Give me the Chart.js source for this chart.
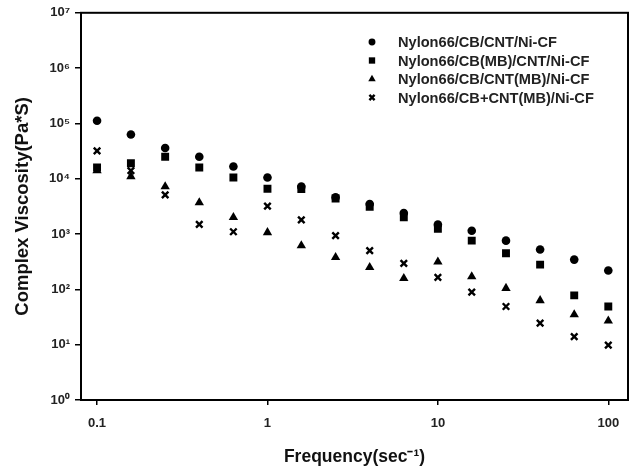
<!DOCTYPE html>
<html lang="en">
<head>
  <meta charset="UTF-8" />
  <title>Complex Viscosity vs Frequency</title>
  <script src="https://cdn.jsdelivr.net/npm/chart.js"></script>
  <style>
    html, body { margin: 0; padding: 0; background: #fff; }
    #chart-container { width: 637px; height: 469px; }
  </style>
</head>
<body>
  <div id="chart-container">
    <canvas id="viscChart"></canvas>
  </div>

  <script>
    // frequency (sec^-1)
    const freq = [0.1, 0.158, 0.251, 0.398, 0.631, 1, 1.58, 2.51, 3.98, 6.31, 10, 15.8, 25.1, 39.8, 63.1, 100];

    // complex viscosity (Pa*S)
    const cbCnt   = [1.12e5, 6.3e4, 3.6e4, 2.5e4, 1.66e4, 1.05e4, 7.2e3, 4.6e3, 3.5e3, 2.4e3, 1.48e3, 1.15e3, 760, 525, 345, 220];
    const cbMbCnt = [1.6e4, 1.9e4, 2.5e4, 1.6e4, 1.05e4, 6.6e3, 6.5e3, 4.4e3, 3.1e3, 2.0e3, 1.25e3, 760, 450, 280, 78, 49];
    const cbCntMb = [1.4e4, 1.1e4, 7.2e3, 3.7e3, 2.0e3, 1.07e3, 620, 380, 250, 158, 315, 170, 105, 63, 35, 27];
    const cbPlusCntMb = [3.2e4, 1.4e4, 5.1e3, 1.5e3, 1.1e3, 3.2e3, 1.8e3, 940, 500, 295, 165, 89, 49, 24.5, 14, 9.8];

    const labels = ['Nylon66/CB/CNT/Ni-CF', 'Nylon66/CB(MB)/CNT/Ni-CF', 'Nylon66/CB/CNT(MB)/Ni-CF', 'Nylon66/CB+CNT(MB)/Ni-CF'];

    const xTicks = [0.1, 1, 10, 100];
    const yTicks = [1, 10, 100, 1e3, 1e4, 1e5, 1e6, 1e7];
    const sup = ['⁰', '¹', '²', '³', '⁴', '⁵', '⁶', '⁷'];

    const FONT = 'Arial, "Liberation Sans", sans-serif';

    function pts(ys) {
      return freq.map((f, i) => ({ x: f, y: ys[i] }));
    }

    const styles = [
      { pointStyle: 'circle', pointRadius: 4.3, pointBorderWidth: 0 },
      { pointStyle: 'rect', pointRadius: 5.6, pointBorderWidth: 0 },
      { pointStyle: 'triangle', pointRadius: 5.4, pointBorderWidth: 0 },
      { pointStyle: 'crossRot', pointRadius: 4.6, pointBorderWidth: 2.4 }
    ];
    const series = [cbCnt, cbMbCnt, cbCntMb, cbPlusCntMb];

    const datasets = series.map((s, i) => Object.assign({
      label: labels[i],
      data: pts(s),
      showLine: false,
      backgroundColor: '#000',
      borderColor: '#000',
      pointBackgroundColor: '#000',
      pointBorderColor: '#000'
    }, styles[i]));

    // box around the plot + legend inside the plot
    const framePlugin = {
      id: 'frame',
      afterDraw(chart) {
        const { ctx, chartArea: a } = chart;
        ctx.save();
        ctx.strokeStyle = '#000';
        ctx.lineWidth = 2;
        ctx.strokeRect(a.left, a.top, a.right - a.left, a.bottom - a.top);

        const mx = 372, tx = 398, y0 = 42, dy = 18.5;
        ctx.font = 'bold 14.6px ' + FONT;
        ctx.textBaseline = 'middle';
        chart.data.datasets.forEach((ds, i) => {
          const y = y0 + i * dy;
          ctx.fillStyle = '#000';
          ctx.strokeStyle = '#000';
          ctx.lineWidth = ds.pointBorderWidth || 1;
          Chart.helpers.drawPoint(ctx, {
            pointStyle: ds.pointStyle,
            radius: ds.pointRadius * 0.8,
            rotation: 0,
            borderWidth: ds.pointBorderWidth
          }, mx, y);
          ctx.fillStyle = '#222';
          ctx.fillText(ds.label, tx, y + 1);
        });
        ctx.restore();
      }
    };

    const ctx = document.getElementById('viscChart').getContext('2d');
    const chart = new Chart(ctx, {
      type: 'scatter',
      data: { datasets: datasets },
      plugins: [framePlugin],
      options: {
        responsive: true,
        maintainAspectRatio: false,
        animation: false,
        layout: { padding: { top: 12, right: 9, left: 0, bottom: 0 } },
        plugins: {
          legend: { display: false },
          tooltip: { enabled: false }
        },
        scales: {
          x: {
            type: 'logarithmic',
            min: 0.0805,
            max: 130.5,
            afterBuildTicks: scale => { scale.ticks = xTicks.map(v => ({ value: v, major: true })); },
            afterFit: scale => { scale.height = 69; },
            ticks: {
              color: '#222',
              font: { family: FONT, size: 13, weight: 'bold' },
              padding: 11,
              maxRotation: 0,
              callback: v => String(v)
            },
            grid: { drawOnChartArea: false, drawTicks: true, tickLength: 5, color: '#000', lineWidth: 1.5 },
            border: { color: '#000', width: 2 },
            title: {
              display: true,
              text: 'Frequency(sec⁻¹)',
              color: '#111',
              font: { family: FONT, size: 17.5, weight: 'bold' },
              padding: { top: 4, bottom: 1 }
            }
          },
          y: {
            type: 'logarithmic',
            min: 1,
            max: 1e7,
            afterBuildTicks: scale => { scale.ticks = yTicks.map(v => ({ value: v, major: true })); },
            afterFit: scale => { scale.width = 81; },
            ticks: {
              color: '#222',
              font: { family: FONT, size: 13, weight: 'bold' },
              padding: 5,
              callback: v => '10' + sup[Math.round(Math.log10(v))]
            },
            grid: { drawOnChartArea: false, drawTicks: true, tickLength: 6, color: '#000', lineWidth: 1.5 },
            border: { color: '#000', width: 2 },
            title: {
              display: true,
              text: 'Complex Viscosity(Pa*S)',
              color: '#111',
              font: { family: FONT, size: 18.5, weight: 'bold' },
              padding: { top: 12, bottom: 0 }
            }
          }
        }
      }
    });
  </script>
</body>
</html>
